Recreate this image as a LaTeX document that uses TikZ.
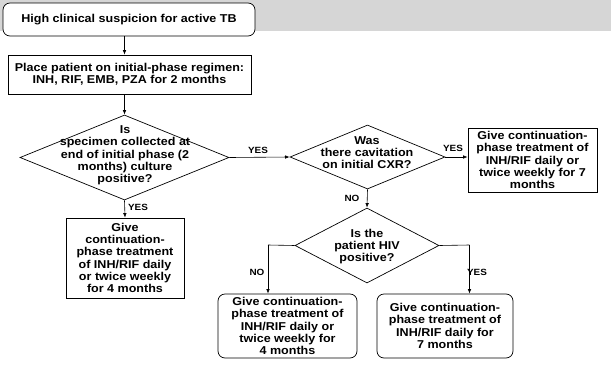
\documentclass[tikz,border=0pt]{standalone}
\usepackage{fontspec}
\setmainfont{Liberation Sans}[FakeStretch=1.10]
\usetikzlibrary{shapes.geometric,arrows.meta}
\begin{document}
\begin{tikzpicture}[x=1pt,y=-1pt,
  every node/.style={font=\bfseries\fontsize{11.4}{12.3}\selectfont, align=center, inner sep=0pt},
  rbox/.style={draw, line width=0.7pt, rounded corners=7pt},
  sbox/.style={draw, line width=0.7pt},
  dia/.style={draw, diamond, line width=0.7pt, inner sep=0pt},
  lab/.style={font=\bfseries\fontsize{9}{10}\selectfont},
  conn/.style={line width=0.6pt, -{Latex[length=4.5pt,width=3.5pt]}},
  seg/.style={line width=0.6pt}
]
\useasboundingbox (0,0) rectangle (611,370);
\fill[gray!32] (0,0) rectangle (611,31);

\node[rbox, minimum width=252pt, minimum height=33pt, fill=white] (top) at (129,19.5) {High clinical suspicion for active TB};
\node[sbox, minimum width=243pt, minimum height=39pt] (box2) at (129.5,74.5) {Place patient on initial-phase regimen:\\INH, RIF, EMB, PZA for 2 months};

\node[dia, minimum width=209pt, minimum height=85pt] (d1) at (124.5,157.5) {};
\node (d1t) at (125,155.5) {Is\\specimen collected at\\end of initial phase (2\\months) culture\\positive?};

\node[dia, minimum width=155pt, minimum height=64pt] (d2) at (367.5,157) {};
\node (d2t) at (367,152.5) {Was\\there cavitation\\on initial CXR?};

\node[dia, minimum width=144pt, minimum height=75pt] (d3) at (367,245.5) {};
\node (d3t) at (367,246.5) {Is the\\patient HIV\\positive?};

\node[sbox, minimum width=129pt, minimum height=64pt] (rb) at (532.5,160) {Give continuation-\\phase treatment of\\INH/RIF daily or\\twice weekly for 7\\months};
\node[sbox, minimum width=118pt, minimum height=80pt] (lb) at (125,258) {Give\\continuation-\\phase treatment\\of INH/RIF daily\\or twice weekly\\for 4 months};
\node[rbox, minimum width=139pt, minimum height=64pt] (nb) at (287.5,326) {Give continuation-\\phase treatment of\\INH/RIF daily or\\twice weekly for\\4 months};
\node[rbox, minimum width=136pt, minimum height=64pt] (yb) at (445,326) {Give continuation-\\phase treatment of\\INH/RIF daily for\\7 months};

\coordinate (nk) at (268,245);
\coordinate (yk) at (469.5,245);

\draw[conn] (top.south -| d1.north) -- (box2.north -| d1.north);
\draw[conn] (box2.south -| d1.north) -- (d1.north);
\draw[conn] (d1.east) -- (d2.west);
\draw[conn] (d2.east) -- (d2.east -| rb.west);
\draw[conn] (d2.south) -- (d3.north);
\draw[conn] (d1.south) -- (lb.north);
\draw[seg] (d3.west) -- (nk);
\draw[conn] (nk) -- (nk |- nb.north);
\draw[seg] (d3.east) -- (yk);
\draw[conn] (yk) -- (yk |- yb.north);

\node[lab] (l1) at (258,150) {YES};
\node[lab] (l2) at (453,148) {YES};
\node[lab] (l3) at (352,198.5) {NO};
\node[lab] (l4) at (138,207.5) {YES};
\node[lab] (l5) at (257,272.5) {NO};
\node[lab] (l6) at (477,272) {YES};
\end{tikzpicture}
\end{document}
